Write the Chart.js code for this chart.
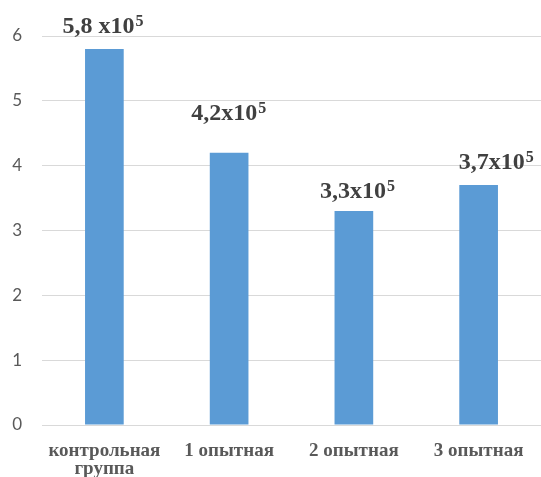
<!DOCTYPE html>
<html lang="ru">
<head>
<meta charset="utf-8">
<title>Группы</title>
<script src="https://cdn.jsdelivr.net/npm/chart.js@4/dist/chart.umd.min.js"></script>
<style>
  html, body { margin: 0; padding: 0; background: #ffffff; }
  canvas { display: block; }
</style>
</head>
<body>
<canvas id="barChart" width="541" height="477"></canvas>
<script>
// группы и значения (x10^5)
const groups = [['контрольная', 'группа'], '1 опытная', '2 опытная', '3 опытная'];
const values = [5.8, 4.2, 3.3, 3.7];
const yTicks = [0, 1, 2, 3, 4, 5, 6];
const labelSeparators = [' ', '', '', ''];
const exponent = '5';

// подписи над столбцами: "5,8 x10^5"
const valueLabels = {
    id: 'valueLabels',
    afterDatasetsDraw(chart, args, opts) {
        const ctx = chart.ctx;
        const meta = chart.getDatasetMeta(0);
        ctx.save();
        ctx.fillStyle = opts.color;
        ctx.textAlign = 'left';
        ctx.textBaseline = 'alphabetic';
        meta.data.forEach((bar, i) => {
            const main = String(values[i]).replace('.', ',') + labelSeparators[i] + 'x10';
            ctx.font = opts.font;
            const w1 = ctx.measureText(main).width;
            ctx.font = opts.supFont;
            const w2 = ctx.measureText(exponent).width;
            const [dx, dy] = opts.offsets[i];
            const x0 = bar.x + dx - (w1 + w2) / 2;
            const y0 = bar.y - dy;
            ctx.font = opts.font;
            ctx.fillText(main, x0, y0);
            ctx.font = opts.supFont;
            ctx.fillText(exponent, x0 + w1 + 1, y0 - 7);
        });
        ctx.restore();
    }
};

const ctxBar = document.getElementById('barChart').getContext('2d');

const chart = new Chart(ctxBar, {
    type: 'bar',
    data: {
        labels: groups,
        datasets: [{
            data: values,
            backgroundColor: '#5b9bd5',
            categoryPercentage: 1,
            barPercentage: 0.31
        }]
    },
    plugins: [valueLabels],
    options: {
        responsive: false,
        animation: false,
        layout: {
            padding: { top: 36, left: 0, right: 0, bottom: 0 }
        },
        plugins: {
            legend: { display: false },
            tooltip: { enabled: false },
            valueLabels: {
                color: '#404040',
                font: 'bold 24px "Liberation Serif", "Times New Roman", serif',
                supFont: 'bold 16px "Liberation Serif", "Times New Roman", serif',
                offsets: [[-2, 16], [-1, 33], [3, 13], [17, 16]]
            }
        },
        scales: {
            x: {
                grid: { display: false },
                border: { display: false },
                ticks: {
                    color: '#595959',
                    font: { family: '"Liberation Serif", "Times New Roman", serif', size: 19, weight: 'bold', lineHeight: 0.95 },
                    padding: 9,
                    maxRotation: 0,
                    autoSkip: false
                },
                afterFit: (scale) => { scale.height = 52; }
            },
            y: {
                min: 0,
                max: 6,
                afterBuildTicks: (scale) => { scale.ticks = yTicks.map(v => ({ value: v })); },
                grid: { color: '#d9d9d9', lineWidth: 1, drawTicks: false },
                border: { display: false },
                ticks: {
                    color: '#595959',
                    font: { family: 'Lato, "Noto Sans", sans-serif', size: 17 },
                    padding: 20
                },
                afterFit: (scale) => { scale.width = 42; }
            }
        }
    }
});
</script>
</body>
</html>
